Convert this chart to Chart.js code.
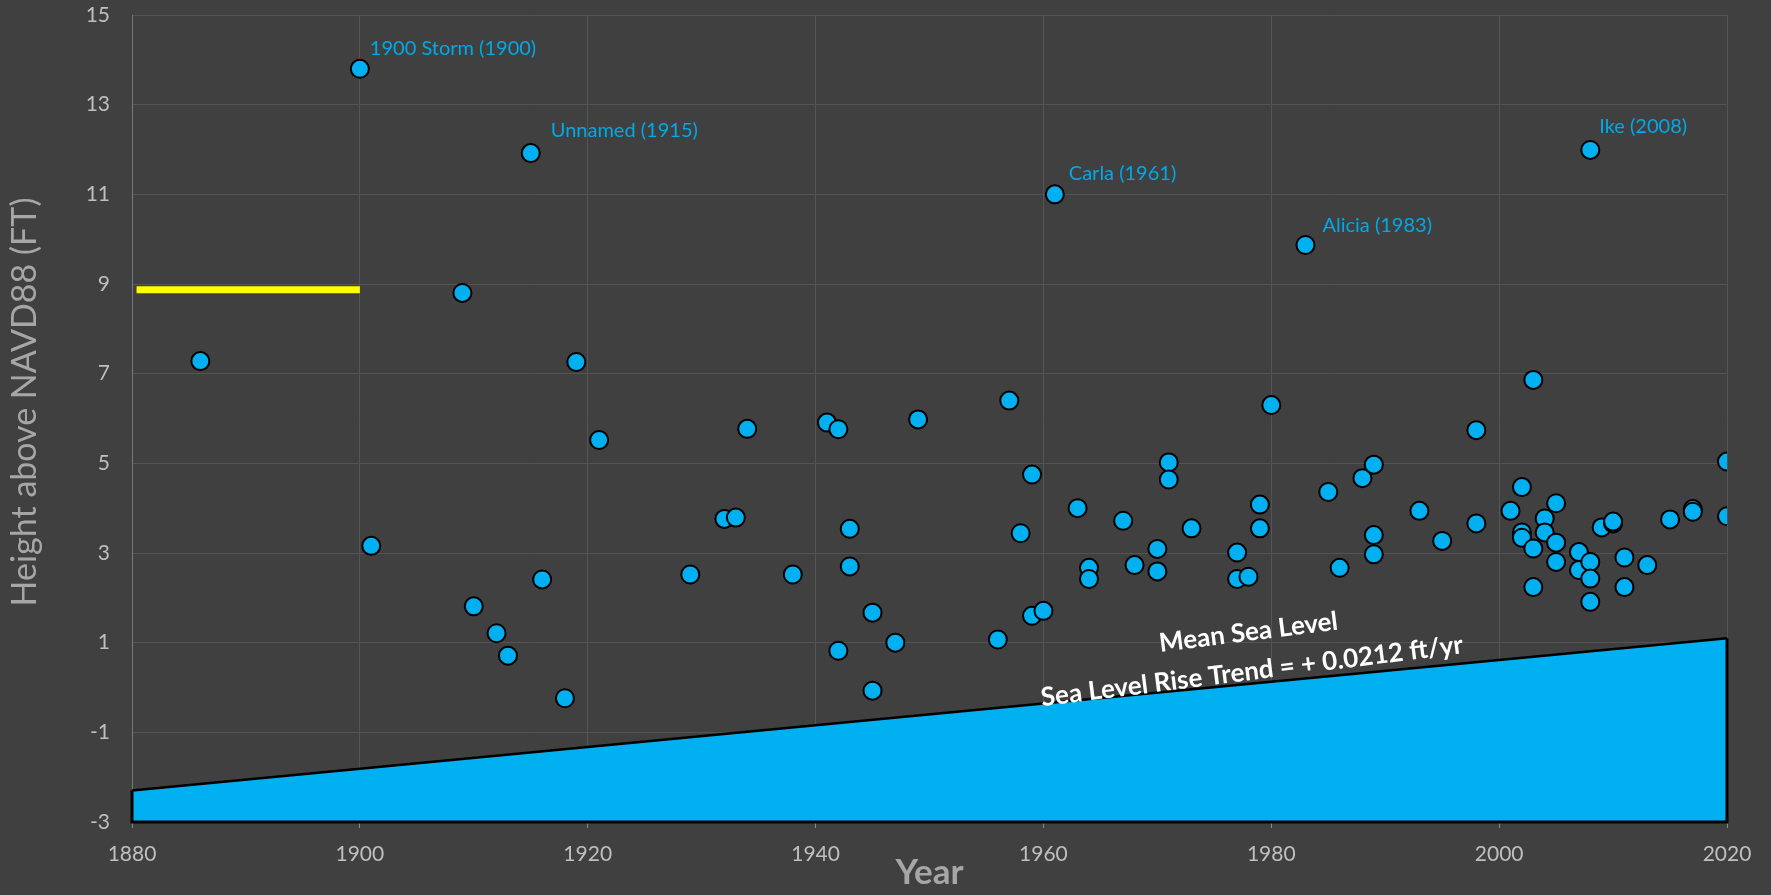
<!DOCTYPE html>
<html>
<head>
<meta charset="utf-8">
<script src="https://cdn.jsdelivr.net/npm/chart.js@4/dist/chart.umd.min.js"></script>
<style>
  html, body { margin: 0; padding: 0; background: #404040; }
  #wrap { width: 1771px; height: 895px; position: relative; }
  canvas { display: block; }
</style>
</head>
<body>
<div id="wrap"><canvas id="c" width="1771" height="895"></canvas></div>
<script>
// ---- Data ----
const stormYears = [
  1886, 1900, 1901, 1909, 1910, 1912, 1913, 1915, 1916, 1918, 1919, 1921,
  1929, 1932, 1933, 1934, 1938, 1941, 1942, 1942, 1943, 1943, 1945, 1945,
  1947, 1949, 1956, 1957, 1958, 1959, 1959, 1960, 1961, 1963, 1964, 1964,
  1967, 1968, 1970, 1970, 1971, 1971, 1973, 1977, 1977, 1978, 1979, 1979,
  1980, 1983, 1985, 1986, 1988, 1989, 1989, 1989, 1993, 1995, 1998, 1998,
  2001, 2002, 2002, 2002, 2003, 2003, 2003, 2004, 2004, 2005, 2005, 2005,
  2007, 2007, 2008, 2008, 2008, 2008, 2009, 2010, 2010, 2011, 2011, 2013,
  2015, 2017, 2017, 2020, 2020
];
const stormHeights = [
  7.28, 13.80, 3.16, 8.80, 1.81, 1.21, 0.71, 11.92, 2.41, -0.24, 7.26, 5.52,
  2.52, 3.76, 3.79, 5.77, 2.52, 5.91, 5.76, 0.82, 3.54, 2.70, 1.67, -0.07,
  1.00, 5.98, 1.07, 6.40, 3.44, 4.75, 1.60, 1.71, 11.00, 4.00, 2.67, 2.42,
  3.72, 2.73, 3.09, 2.59, 5.02, 4.64, 3.55, 3.01, 2.42, 2.47, 4.08, 3.55,
  6.30, 9.87, 4.36, 2.67, 4.67, 4.97, 3.40, 2.97, 3.94, 3.27, 5.74, 3.66,
  3.94, 4.47, 3.46, 3.34, 6.86, 3.10, 2.24, 3.77, 3.46, 4.11, 3.23, 2.80,
  3.02, 2.62, 11.99, 2.80, 2.43, 1.91, 3.57, 3.66, 3.70, 2.90, 2.24, 2.73,
  3.75, 3.98, 3.92, 5.04, 3.82
];
const labelYears = [1900, 1915, 1961, 1983, 2008];
const labelNames = ['1900 Storm (1900)', 'Unnamed (1915)', 'Carla (1961)', 'Alicia (1983)', 'Ike (2008)'];

const seaYears = [1880, 2020];
const seaLevels = [-2.3, 1.1];
const axisFloor = -3;

const markerYears = [1880.4, 1900];
const markerLevels = [8.87, 8.87];

const seaTextLines = ['Mean Sea Level', 'Sea Level Rise Trend = + 0.0212 ft/yr'];
const seaTextYears = [1978.0, 1978.3];
const seaTextLevels = [1.23, 0.36];

const yTitle = 'Height above NAVD88 (FT)';
const xTitle = 'Year';

const xMin = 1880, xMax = 2020, xStep = 20;
const yMin = -3, yMax = 15, yStep = 2;

// label placement (style only, pixels)
const labelDx = [10, 20, 14, 17, 9];
const labelDy = [-20, -23, -21, -19, -23];

// ---- Build datasets ----
const stormPoints = stormYears.map((y, i) => ({ x: y, y: stormHeights[i] }));
const seaTop = seaYears.map((y, i) => ({ x: y, y: seaLevels[i] }));
const seaOutline = [
  { x: seaYears[0], y: seaLevels[0] },
  { x: seaYears[0], y: axisFloor },
  { x: seaYears[1], y: axisFloor },
  { x: seaYears[1], y: seaLevels[1] }
];
const markerLine = markerYears.map((y, i) => ({ x: y, y: markerLevels[i] }));

const FONT = 'Lato, "Open Sans", sans-serif';
Chart.defaults.font.family = FONT;

const annotationPlugin = {
  id: 'annots',
  afterDatasetsDraw(chart) {
    const { ctx, scales: { x, y } } = chart;
    ctx.save();
    ctx.font = '20px ' + FONT;
    ctx.fillStyle = '#00A9E8';
    ctx.textAlign = 'left';
    ctx.textBaseline = 'middle';
    labelYears.forEach((yr, k) => {
      let best = -Infinity;
      stormYears.forEach((sy, i) => { if (sy === yr && stormHeights[i] > best) best = stormHeights[i]; });
      const px = x.getPixelForValue(yr);
      const py = y.getPixelForValue(best);
      ctx.fillText(labelNames[k], px + labelDx[k], py + labelDy[k]);
    });
    ctx.font = 'bold 26px ' + FONT;
    ctx.fillStyle = '#ffffff';
    ctx.textAlign = 'center';
    seaTextLines.forEach((t, k) => {
      const px = x.getPixelForValue(seaTextYears[k]);
      const py = y.getPixelForValue(seaTextLevels[k]);
      ctx.save();
      ctx.translate(px, py);
      ctx.rotate(-7.2 * Math.PI / 180);
      ctx.fillText(t, 0, 0);
      ctx.restore();
    });
    ctx.font = '34px ' + FONT;
    ctx.fillStyle = '#a6a6a6';
    ctx.save();
    ctx.translate(25, 402);
    ctx.rotate(-Math.PI / 2);
    ctx.fillText(yTitle, 0, 0);
    ctx.restore();
    ctx.restore();
  }
};

new Chart(document.getElementById('c'), {
  type: 'scatter',
  data: {
    datasets: [
      {
        label: 'Storm surge',
        data: stormPoints,
        backgroundColor: '#00B0F0',
        borderColor: '#000000',
        borderWidth: 2,
        pointRadius: 9,
        pointHoverRadius: 9
      },
      {
        type: 'line',
        label: 'Marker',
        data: markerLine,
        borderColor: '#FFFF00',
        borderWidth: 7,
        pointRadius: 0,
        borderCapStyle: 'butt',
        fill: false
      },
      {
        type: 'line',
        label: 'Outline',
        data: seaOutline,
        borderColor: '#000000',
        borderWidth: 3,
        pointRadius: 0,
        fill: false,
        clip: 6
      },
      {
        type: 'line',
        label: 'Mean Sea Level',
        data: seaTop,
        borderColor: '#000000',
        borderWidth: 2.5,
        backgroundColor: '#00B0F0',
        pointRadius: 0,
        fill: { target: { value: axisFloor } },
        clip: 6
      }
    ]
  },
  options: {
    responsive: false,
    animation: false,
    events: [],
    layout: { padding: { left: 0, right: 44, top: 15, bottom: 0 } },
    plugins: { legend: { display: false }, tooltip: { enabled: false } },
    scales: {
      x: {
        type: 'linear',
        min: xMin, max: xMax,
        ticks: { stepSize: xStep, color: '#bfbfbf', font: { size: 21 }, padding: 14, callback: v => String(v) },
        grid: { color: '#545454', lineWidth: 1, tickLength: 6, tickColor: '#8a8a8a' },
        border: { color: '#7a7a7a' },
        title: { display: true, text: xTitle, color: '#a6a6a6', font: { size: 35, weight: 'bold' }, padding: { top: 0, bottom: 1 } },
        afterFit: s => { s.height = 73; s.paddingLeft = 0; s.paddingRight = 0; }
      },
      y: {
        min: yMin, max: yMax,
        ticks: { stepSize: yStep, color: '#bfbfbf', font: { size: 21 }, padding: 22 },
        grid: { color: '#545454', lineWidth: 1, drawTicks: false },
        border: { color: '#7a7a7a' },
        afterFit: s => { s.width = 132; s.paddingTop = 0; s.paddingBottom = 0; }
      }
    }
  },
  plugins: [annotationPlugin]
});
</script>
</body>
</html>
